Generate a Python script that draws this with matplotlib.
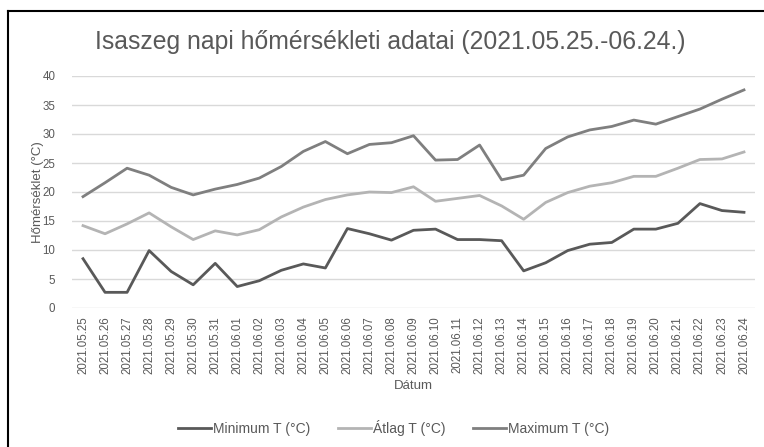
import matplotlib
matplotlib.use("Agg")
import matplotlib.pyplot as plt
from matplotlib import font_manager
from matplotlib.lines import Line2D

names = {f.name for f in font_manager.fontManager.ttflist}
fam = "Liberation Sans Narrow" if "Liberation Sans Narrow" in names else "Liberation Sans"
plt.rcParams['font.family'] = [fam, 'DejaVu Sans']

dates = ["2021.05.25", "2021.05.26", "2021.05.27", "2021.05.28", "2021.05.29", "2021.05.30",
         "2021.05.31", "2021.06.01", "2021.06.02", "2021.06.03", "2021.06.04", "2021.06.05",
         "2021.06.06", "2021.06.07", "2021.06.08", "2021.06.09", "2021.06.10", "2021.06.11",
         "2021.06.12", "2021.06.13", "2021.06.14", "2021.06.15", "2021.06.16", "2021.06.17",
         "2021.06.18", "2021.06.19", "2021.06.20", "2021.06.21", "2021.06.22", "2021.06.23",
         "2021.06.24"]
t_min = [8.5, 2.7, 2.7, 9.9, 6.3, 4.0, 7.7, 3.7, 4.7, 6.5, 7.6, 6.9, 13.7, 12.8, 11.7, 13.4,
         13.6, 11.8, 11.8, 11.6, 6.4, 7.8, 9.9, 11.0, 11.3, 13.6, 13.6, 14.6, 18.0, 16.8, 16.5]
t_avg = [14.2, 12.8, 14.5, 16.4, 14.0, 11.8, 13.3, 12.6, 13.5, 15.7, 17.4, 18.7, 19.5, 20.0,
         19.9, 20.9, 18.4, 18.9, 19.4, 17.6, 15.3, 18.2, 19.9, 21.0, 21.6, 22.7, 22.7, 24.1,
         25.6, 25.7, 26.9]
t_max = [19.2, 21.6, 24.1, 22.9, 20.8, 19.5, 20.5, 21.3, 22.4, 24.4, 27.0, 28.7, 26.6, 28.2,
         28.5, 29.7, 25.5, 25.6, 28.1, 22.1, 22.9, 27.5, 29.5, 30.7, 31.3, 32.4, 31.7, 33.0,
         34.3, 36.0, 37.6]
series = [("Minimum T (°C)", t_min, "#595959"),
          ("Átlag T (°C)", t_avg, "#b4b4b4"),
          ("Maximum T (°C)", t_max, "#7f7f7f")]

fig = plt.figure(figsize=(7.64, 4.47), dpi=100)
ax = fig.add_axes([72/764, 1-308/447, (755-72)/764, (308-76)/447])
x = list(range(len(dates)))
for name, vals, col in series:
    ax.plot(x, vals, color=col, lw=2.0, solid_joinstyle='round', label=name, zorder=3)

ax.set_xlim(-0.5, len(dates)-0.5)
ax.set_ylim(0, 40)
ax.set_yticks(range(0, 41, 5))
ax.set_xticks(x)
ax.set_xticklabels(dates, rotation=90, fontsize=8.3, color="#595959")
ax.tick_params(axis='y', labelsize=8.3, colors="#595959", length=0, pad=12)
ax.tick_params(axis='x', length=0, pad=6)
ax.grid(axis='y', color="#d9d9d9", lw=1)
ax.set_axisbelow(True)
for s in ax.spines.values():
    s.set_visible(False)
ax.set_ylabel("Hőmérséklet (°C)", fontsize=9.5, color="#595959")
ax.yaxis.set_label_coords(-(72-44)/(755-72), 0.5)
ax.set_xlabel("Dátum", fontsize=9.5, color="#595959", labelpad=4)

fig.text(0.5105, 1-42/447, "Isaszeg napi hőmérsékleti adatai (2021.05.25.-06.24.)",
         ha='center', va='center', fontsize=17.8, color="#595959")

handles = [Line2D([0], [0], color=c, lw=2.0) for _, _, c in series]
fig.legend(handles, [n for n, _, _ in series], loc='center', bbox_to_anchor=(0.515, 1-428/447),
           ncol=3, frameon=False, fontsize=10, labelcolor="#595959", handlelength=2.4,
           handletextpad=0.1, columnspacing=2.0)

fig.add_artist(Line2D([8/764, 8/764], [0, 1-11/447], transform=fig.transFigure, color='black', lw=1.5))
fig.add_artist(Line2D([8/764, 1], [1-11/447, 1-11/447], transform=fig.transFigure, color='black', lw=1.5))

fig.savefig("out.png", dpi=100)
